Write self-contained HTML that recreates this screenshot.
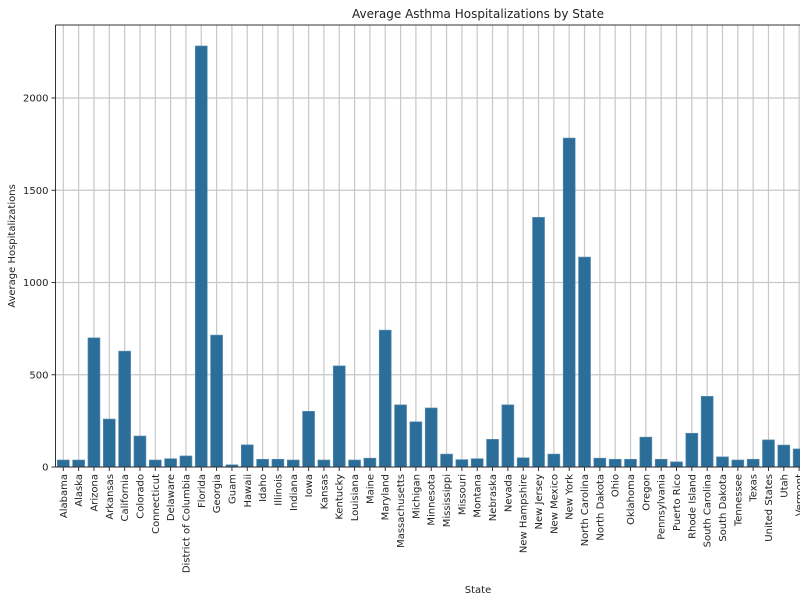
<!DOCTYPE html>
<html><head><meta charset="utf-8"><style>body{margin:0;background:#fff}svg{display:block}text{font-family:"DejaVu Sans","Liberation Sans",sans-serif;fill:#222}</style></head>
<body>
<svg id="s" width="800" height="600" xmlns="http://www.w3.org/2000/svg"></svg>
<script>
const names=["Alabama","Alaska","Arizona","Arkansas","California","Colorado","Connecticut","Delaware","District of Columbia","Florida","Georgia","Guam","Hawaii","Idaho","Illinois","Indiana","Iowa","Kansas","Kentucky","Louisiana","Maine","Maryland","Massachusetts","Michigan","Minnesota","Mississippi","Missouri","Montana","Nebraska","Nevada","New Hampshire","New Jersey","New Mexico","New York","North Carolina","North Dakota","Ohio","Oklahoma","Oregon","Pennsylvania","Puerto Rico","Rhode Island","South Carolina","South Dakota","Tennessee","Texas","United States","Utah","Vermont"];
const vals=[38,38,700,260,628,168,38,45,60,2282,715,12,120,42,42,38,302,38,548,38,48,742,337,245,320,70,40,45,150,337,50,1353,70,1783,1138,48,42,42,162,42,28,183,383,55,38,42,147,119,98];
const X0=55.5,Y0=467,TOP=25,k=0.1845,sp=15.33,c0=63.3;
let h='';
for(let i=0;i<names.length;i++){const x=c0+i*sp;h+=`<line x1="${x}" y1="${TOP}" x2="${x}" y2="${Y0}" stroke="#c8c8c8" stroke-width="1.2"/>`;}
for(let v=0;v<=2000;v+=500){const y=Y0-v*k;h+=`<line x1="${X0}" y1="${y}" x2="800" y2="${y}" stroke="#c8c8c8" stroke-width="1.2"/><line x1="${X0-4}" y1="${y}" x2="${X0}" y2="${y}" stroke="#333"/><text x="${X0-7}" y="${y+3.5}" font-size="10" text-anchor="end">${v}</text>`;}
for(let i=0;i<names.length;i++){const x=c0+i*sp;const hh=vals[i]*k;h+=`<rect x="${x-6}" y="${Y0-hh}" width="12" height="${hh}" fill="#2c6e9a" stroke="#5d8fb3" stroke-width="0.6"/>`;
h+=`<line x1="${x}" y1="${Y0}" x2="${x}" y2="${Y0+4}" stroke="#333"/><text transform="translate(${x+3.5},${Y0+7}) rotate(-90)" font-size="10" text-anchor="end">${names[i]}</text>`;}
h+=`<line x1="${X0}" y1="${TOP}" x2="800" y2="${TOP}" stroke="#333"/><line x1="${X0}" y1="${TOP}" x2="${X0}" y2="${Y0}" stroke="#333"/><line x1="${X0}" y1="${Y0}" x2="800" y2="${Y0}" stroke="#333"/>`;
h+=`<text x="478" y="18" font-size="12" text-anchor="middle">Average Asthma Hospitalizations by State</text>`;
h+=`<text x="478" y="593" font-size="10" text-anchor="middle">State</text>`;
h+=`<text transform="translate(15,246) rotate(-90)" font-size="10" text-anchor="middle">Average Hospitalizations</text>`;
document.getElementById('s').innerHTML=h;
</script>
</body></html>
